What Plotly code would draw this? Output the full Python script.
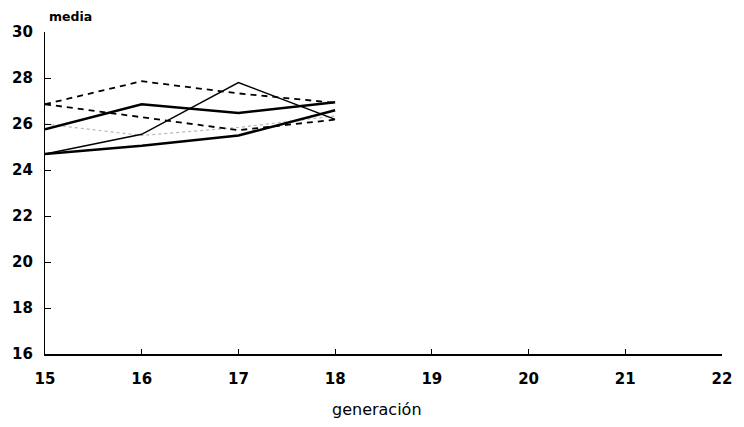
import plotly.graph_objects as go

# Generations on the x axis
generacion = [15, 16, 17, 18]

# Mean value per generation for each line
media_a = [26.86, 27.86, 27.33, 26.92]   # dashed, upper
media_b = [26.86, 26.29, 25.73, 26.19]   # dashed, lower
media_c = [25.77, 26.86, 26.48, 26.95]   # solid, thick
media_d = [24.69, 25.55, 27.80, 26.20]   # solid, thin
media_e = [24.70, 25.05, 25.50, 26.60]   # solid, thick lower
media_f = [26.00, 25.50, 25.85, 26.35]   # faint dotted

x_ticks = [15, 16, 17, 18, 19, 20, 21, 22]
y_ticks = [16, 18, 20, 22, 24, 26, 28, 30]

series = [
    (media_f, dict(color="#b8b8b8", width=1.2, dash="dot")),
    (media_a, dict(color="black", width=1.8, dash="6px,5px")),
    (media_b, dict(color="black", width=1.8, dash="6px,5px")),
    (media_d, dict(color="black", width=1.5)),
    (media_e, dict(color="black", width=2.5)),
    (media_c, dict(color="black", width=2.5)),
]

fig = go.Figure()
for ys, line in series:
    fig.add_trace(go.Scatter(x=generacion, y=ys, mode="lines", line=line,
                             showlegend=False, hoverinfo="skip"))

tick_font = dict(family="DejaVu Sans", size=15, color="black", weight="bold")

fig.update_layout(
    width=744, height=427,
    margin=dict(l=43, r=16, t=32, b=73),
    paper_bgcolor="white", plot_bgcolor="white",
    showlegend=False,
    xaxis=dict(
        range=[15, 22], tickvals=x_ticks, ticktext=[str(v) for v in x_ticks],
        showgrid=False, zeroline=False,
        showline=True, linecolor="black", linewidth=1.6,
        ticks="inside", ticklen=5, tickcolor="black", tickwidth=1,
        tickfont=tick_font, ticklabelstandoff=10,
    ),
    yaxis=dict(
        range=[16, 30], tickvals=y_ticks, ticktext=[str(v) for v in y_ticks],
        showgrid=False, zeroline=False,
        showline=True, linecolor="black", linewidth=1.2,
        ticks="inside", ticklen=6, tickcolor="black", tickwidth=1.2,
        tickfont=tick_font, ticklabelstandoff=8,
    ),
    annotations=[
        dict(text="media", xref="paper", yref="paper", x=0.0, y=1.0,
             xanchor="left", yanchor="bottom", yshift=6, xshift=2, showarrow=False,
             font=dict(family="DejaVu Sans", size=12.5, color="black", weight="bold")),
        dict(text="generación", xref="paper", yref="paper", x=0.49, y=0,
             xanchor="center", yanchor="top", yshift=-44, showarrow=False,
             font=dict(family="DejaVu Sans", size=16, color="black")),
    ],
)

fig.write_html("out.html")
